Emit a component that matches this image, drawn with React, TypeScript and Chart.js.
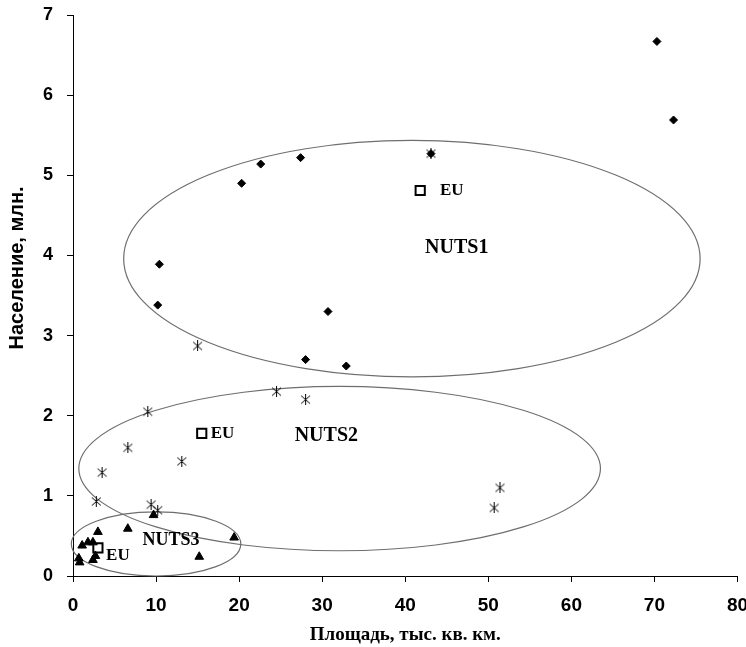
import React, { useEffect, useRef } from "react";
import { Chart, registerables } from "chart.js";
Chart.register(...registerables);

// NUTS1 regions (diamonds)
const nuts1X = [70.3, 72.3, 43.1, 27.4, 22.6, 20.3, 10.4, 10.2, 30.7, 28.0, 32.9];
const nuts1Y = [6.67, 5.69, 5.27, 5.22, 5.14, 4.9, 3.89, 3.38, 3.3, 2.7, 2.62];
// NUTS2 regions (asterisks)
const nuts2X = [43.1, 15.0, 24.5, 28.0, 9.0, 6.6, 13.1, 3.5, 2.8, 9.4, 10.2, 51.4, 50.7];
const nuts2Y = [5.27, 2.87, 2.3, 2.2, 2.05, 1.6, 1.43, 1.29, 0.93, 0.89, 0.82, 1.1, 0.85];
// NUTS3 regions (triangles)
const nuts3X = [3.0, 6.6, 9.7, 19.4, 15.2, 1.1, 1.8, 2.4, 0.7, 0.8, 2.4, 2.7];
const nuts3Y = [0.55, 0.59, 0.76, 0.48, 0.24, 0.38, 0.42, 0.42, 0.22, 0.17, 0.2, 0.25];
// EU averages (hollow squares)
const euX = [41.8, 15.5, 3.0];
const euY = [4.81, 1.78, 0.35];

// ellipses around groups (data units)
const ellipseCX = [40.8, 32.1, 10.0];
const ellipseCY = [3.96, 1.34, 0.4];
const ellipseRX = [34.7, 31.4, 10.2];
const ellipseRY = [1.475, 1.025, 0.4];

// text annotations (data units, centre)
const noteTexts = ["NUTS1", "EU", "NUTS2", "EU", "NUTS3", "EU"];
const noteX = [46.2, 45.6, 30.5, 18.0, 11.8, 5.4];
const noteY = [4.1, 4.81, 1.75, 1.775, 0.45, 0.26];
const noteSize = [20, 17, 20, 17, 18, 17];

const xTicks = [0, 10, 20, 30, 40, 50, 60, 70, 80];
const yTicks = [0, 1, 2, 3, 4, 5, 6, 7];

const xTitle = "Площадь, тыс. кв. км.";
const yTitle = "Население, млн.";

function toPoints(xs: number[], ys: number[]) {
  return xs.map((x, i) => ({ x, y: ys[i] }));
}

function makeAsterisk(): HTMLCanvasElement {
  const c = document.createElement("canvas");
  c.width = 11;
  c.height = 11;
  const g = c.getContext("2d")!;
  g.strokeStyle = "#000";
  g.lineWidth = 1;
  g.beginPath();
  g.moveTo(5.5, 0);
  g.lineTo(5.5, 11);
  g.moveTo(1, 1.5);
  g.lineTo(10, 9.5);
  g.moveTo(10, 1.5);
  g.lineTo(1, 9.5);
  g.stroke();
  return c;
}

export default function App() {
  const ref = useRef<HTMLCanvasElement | null>(null);

  useEffect(() => {
    document.body.style.margin = "0";
    const canvas = ref.current;
    if (!canvas) return;
    const asterisk = makeAsterisk();

    const overlay = {
      id: "overlay",
      beforeDatasetsDraw(chart: any) {
        const { ctx, scales } = chart;
        const xs = scales.x;
        const ys = scales.y;
        ctx.save();
        ctx.strokeStyle = "#6e6e6e";
        ctx.lineWidth = 1.2;
        for (let i = 0; i < ellipseCX.length; i++) {
          const cx = xs.getPixelForValue(ellipseCX[i]);
          const cy = ys.getPixelForValue(ellipseCY[i]);
          const rx = Math.abs(xs.getPixelForValue(ellipseCX[i] + ellipseRX[i]) - cx);
          const ry = Math.abs(ys.getPixelForValue(ellipseCY[i] + ellipseRY[i]) - cy);
          ctx.beginPath();
          ctx.ellipse(cx, cy, rx, ry, 0, 0, Math.PI * 2);
          ctx.stroke();
        }
        ctx.restore();
      },
      afterDatasetsDraw(chart: any) {
        const { ctx, scales } = chart;
        const xs = scales.x;
        const ys = scales.y;
        ctx.save();
        ctx.fillStyle = "#000";
        ctx.textAlign = "center";
        ctx.textBaseline = "middle";
        for (let i = 0; i < noteTexts.length; i++) {
          ctx.font = `bold ${noteSize[i]}px "Liberation Serif", "Times New Roman", serif`;
          ctx.fillText(noteTexts[i], xs.getPixelForValue(noteX[i]), ys.getPixelForValue(noteY[i]));
        }
        // y-axis title
        ctx.translate(17, 268);
        ctx.rotate(-Math.PI / 2);
        ctx.font = `bold 20px "Liberation Sans", Arial, sans-serif`;
        ctx.fillText(yTitle, 0, 0);
        ctx.restore();
      },
    };

    const chart = new Chart(canvas, {
      type: "scatter",
      data: {
        datasets: [
          {
            label: "NUTS1",
            data: toPoints(nuts1X, nuts1Y),
            pointStyle: "rectRot",
            pointRadius: 4,
            backgroundColor: "#000",
            borderColor: "#000",
            borderWidth: 1,
          },
          {
            label: "NUTS2",
            data: toPoints(nuts2X, nuts2Y),
            pointStyle: asterisk as any,
            pointRadius: 5,
            backgroundColor: "#000",
            borderColor: "#000",
          },
          {
            label: "NUTS3",
            data: toPoints(nuts3X, nuts3Y),
            pointStyle: "triangle",
            pointRadius: 5,
            backgroundColor: "#000",
            borderColor: "#000",
            borderWidth: 1,
          },
          {
            label: "EU",
            data: toPoints(euX, euY),
            pointStyle: "rect",
            pointRadius: 6.5,
            backgroundColor: "#fff",
            borderColor: "#000",
            borderWidth: 2,
          },
        ],
      },
      options: {
        animation: false,
        responsive: false,
        layout: { padding: { top: 15, right: 6, left: 0, bottom: 0 } },
        plugins: {
          legend: { display: false },
          tooltip: { enabled: false },
        },
        scales: {
          x: {
            type: "linear",
            min: 0,
            max: 80,
            afterBuildTicks: (s: any) => {
              s.ticks = xTicks.map((v) => ({ value: v }));
            },
            afterFit: (s: any) => {
              s.height = 71;
              s.paddingLeft = 0;
              s.paddingRight = 0;
            },
            ticks: {
              color: "#000",
              padding: 12,
              font: { family: '"Liberation Sans", Arial, sans-serif', size: 19, weight: "bold" },
            },
            grid: {
              drawOnChartArea: false,
              drawTicks: true,
              tickLength: 6,
              tickColor: "#000",
            },
            border: { display: true, color: "#000", width: 1 },
            title: {
              display: true,
              text: xTitle,
              color: "#000",
              padding: { top: 0, bottom: 1 },
              font: { family: '"Liberation Serif", "Times New Roman", serif', size: 19, weight: "bold" },
            },
          },
          y: {
            type: "linear",
            min: 0,
            max: 7,
            afterBuildTicks: (s: any) => {
              s.ticks = yTicks.map((v) => ({ value: v }));
            },
            afterFit: (s: any) => {
              s.width = 73;
              s.paddingTop = 0;
              s.paddingBottom = 0;
            },
            ticks: {
              color: "#000",
              padding: 14,
              font: { family: '"Liberation Sans", Arial, sans-serif', size: 18, weight: "bold" },
            },
            grid: {
              drawOnChartArea: false,
              drawTicks: true,
              tickLength: 6,
              tickColor: "#000",
            },
            border: { display: true, color: "#000", width: 1 },
          },
        },
      },
      plugins: [overlay],
    } as any);

    return () => chart.destroy();
  }, []);

  return (
    <div style={{ width: 746, height: 647 }}>
      <canvas ref={ref} width={746} height={647} style={{ display: "block" }} />
    </div>
  );
}
